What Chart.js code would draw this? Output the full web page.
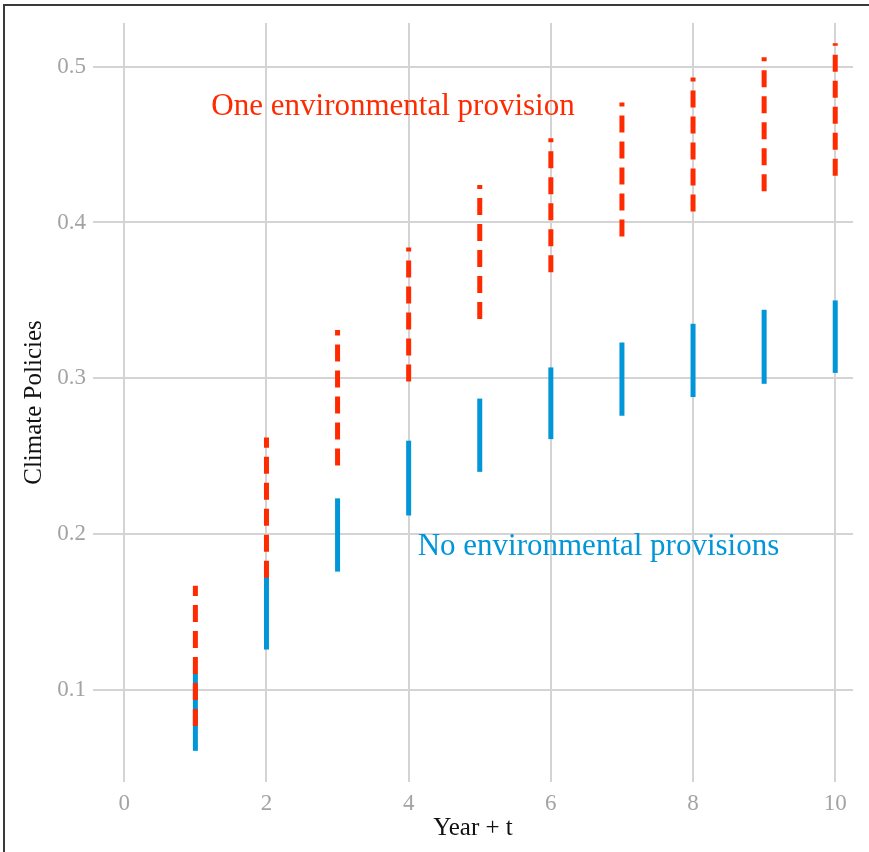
<!DOCTYPE html>
<html>
<head>
<meta charset="utf-8">
<script src="https://cdn.jsdelivr.net/npm/chart.js@4.4.1/dist/chart.umd.min.js"></script>
<style>
  body { margin: 0; background: #fff; }
  #wrap { position: relative; width: 869px; height: 852px; }
  #frame { position: absolute; left: 3px; top: 4px; right: 0; bottom: 0;
           border-left: 2px solid #3a3a3a; border-top: 2px solid #3a3a3a; pointer-events: none; }
</style>
</head>
<body>
<div id="wrap">
  <canvas id="myChart" width="869" height="852"></canvas>
  <div id="frame"></div>
</div>
<script>
// years after the agreement
const years = [1, 2, 3, 4, 5, 6, 7, 8, 9, 10];

// One environmental provision: interval low / high
const oneLow  = [0.077, 0.172, 0.244, 0.298, 0.338, 0.368, 0.391, 0.407, 0.420, 0.430];
const oneHigh = [0.167, 0.262, 0.331, 0.384, 0.424, 0.454, 0.477, 0.493, 0.506, 0.515];

// No environmental provisions: interval low / high
const noLow  = [0.061, 0.126, 0.176, 0.212, 0.240, 0.261, 0.276, 0.288, 0.2965, 0.3035];
const noHigh = [0.111, 0.173, 0.223, 0.260, 0.287, 0.307, 0.323, 0.335, 0.344, 0.350];

const xTicks = [0, 2, 4, 6, 8, 10];
const yTicks = [0.1, 0.2, 0.3, 0.4, 0.5];

const red = '#ff2a00';
const blue = '#0096d8';

const labels = [
    { text: 'One environmental provision', x: 3.78, y: 0.474, color: red },
    { text: 'No environmental provisions', x: 6.67, y: 0.192, color: blue },
];

// one small line per year, drawn from low to high
function ranges(lows, highs, color, dashed, order) {
    return years.map((yr, i) => ({
        data: [{ x: yr, y: lows[i] }, { x: yr, y: highs[i] }],
        borderColor: color,
        backgroundColor: color,
        borderWidth: 5,
        borderDash: dashed ? [17, 9] : [],
        borderCapStyle: 'butt',
        showLine: true,
        pointRadius: 0,
        pointHoverRadius: 0,
        order: order
    }));
}

const textPlugin = {
    id: 'textLabels',
    afterDatasetsDraw(chart) {
        const { ctx, scales } = chart;
        ctx.save();
        ctx.font = '31px "Liberation Serif", "Times New Roman", serif';
        ctx.textAlign = 'center';
        ctx.textBaseline = 'middle';
        labels.forEach(l => {
            ctx.fillStyle = l.color;
            ctx.fillText(l.text, scales.x.getPixelForValue(l.x), scales.y.getPixelForValue(l.y));
        });
        ctx.restore();
    }
};

const serif = '"Liberation Serif", "Times New Roman", serif';

const ctx = document.getElementById('myChart').getContext('2d');
const myChart = new Chart(ctx, {
    type: 'scatter',
    data: {
        datasets: [
            ...ranges(oneLow, oneHigh, red, true, 0),
            ...ranges(noLow, noHigh, blue, false, 1)
        ]
    },
    options: {
        responsive: false,
        animation: false,
        layout: { padding: { left: 10, top: 23, right: 16, bottom: 0 } },
        scales: {
            x: {
                type: 'linear',
                min: -0.44,
                max: 10.25,
                afterBuildTicks: s => { s.ticks = xTicks.map(v => ({ value: v })); },
                afterFit: s => { s.height = 70; },
                border: { display: false },
                grid: { color: '#d4d4d4', lineWidth: 2, drawTicks: false },
                ticks: {
                    padding: 8,
                    color: '#a3a3a3',
                    font: { family: serif, size: 23 },
                    maxRotation: 0
                },
                title: {
                    display: true,
                    text: 'Year + t',
                    color: '#111',
                    font: { family: serif, size: 25 },
                    padding: { top: 0, bottom: 9 }
                }
            },
            y: {
                type: 'linear',
                min: 0.041,
                max: 0.528,
                afterBuildTicks: s => { s.ticks = yTicks.map(v => ({ value: v })); },
                afterFit: s => { s.width = 83; },
                border: { display: false },
                grid: { color: '#d4d4d4', lineWidth: 2, drawTicks: false },
                ticks: {
                    padding: 7,
                    color: '#a3a3a3',
                    font: { family: serif, size: 23 },
                    callback: v => v.toFixed(1)
                },
                title: {
                    display: true,
                    text: 'Climate Policies',
                    color: '#111',
                    font: { family: serif, size: 25 },
                    padding: { top: 9, bottom: 0 }
                }
            }
        },
        plugins: {
            legend: { display: false },
            tooltip: { enabled: false }
        }
    },
    plugins: [textPlugin]
});
</script>
</body>
</html>
